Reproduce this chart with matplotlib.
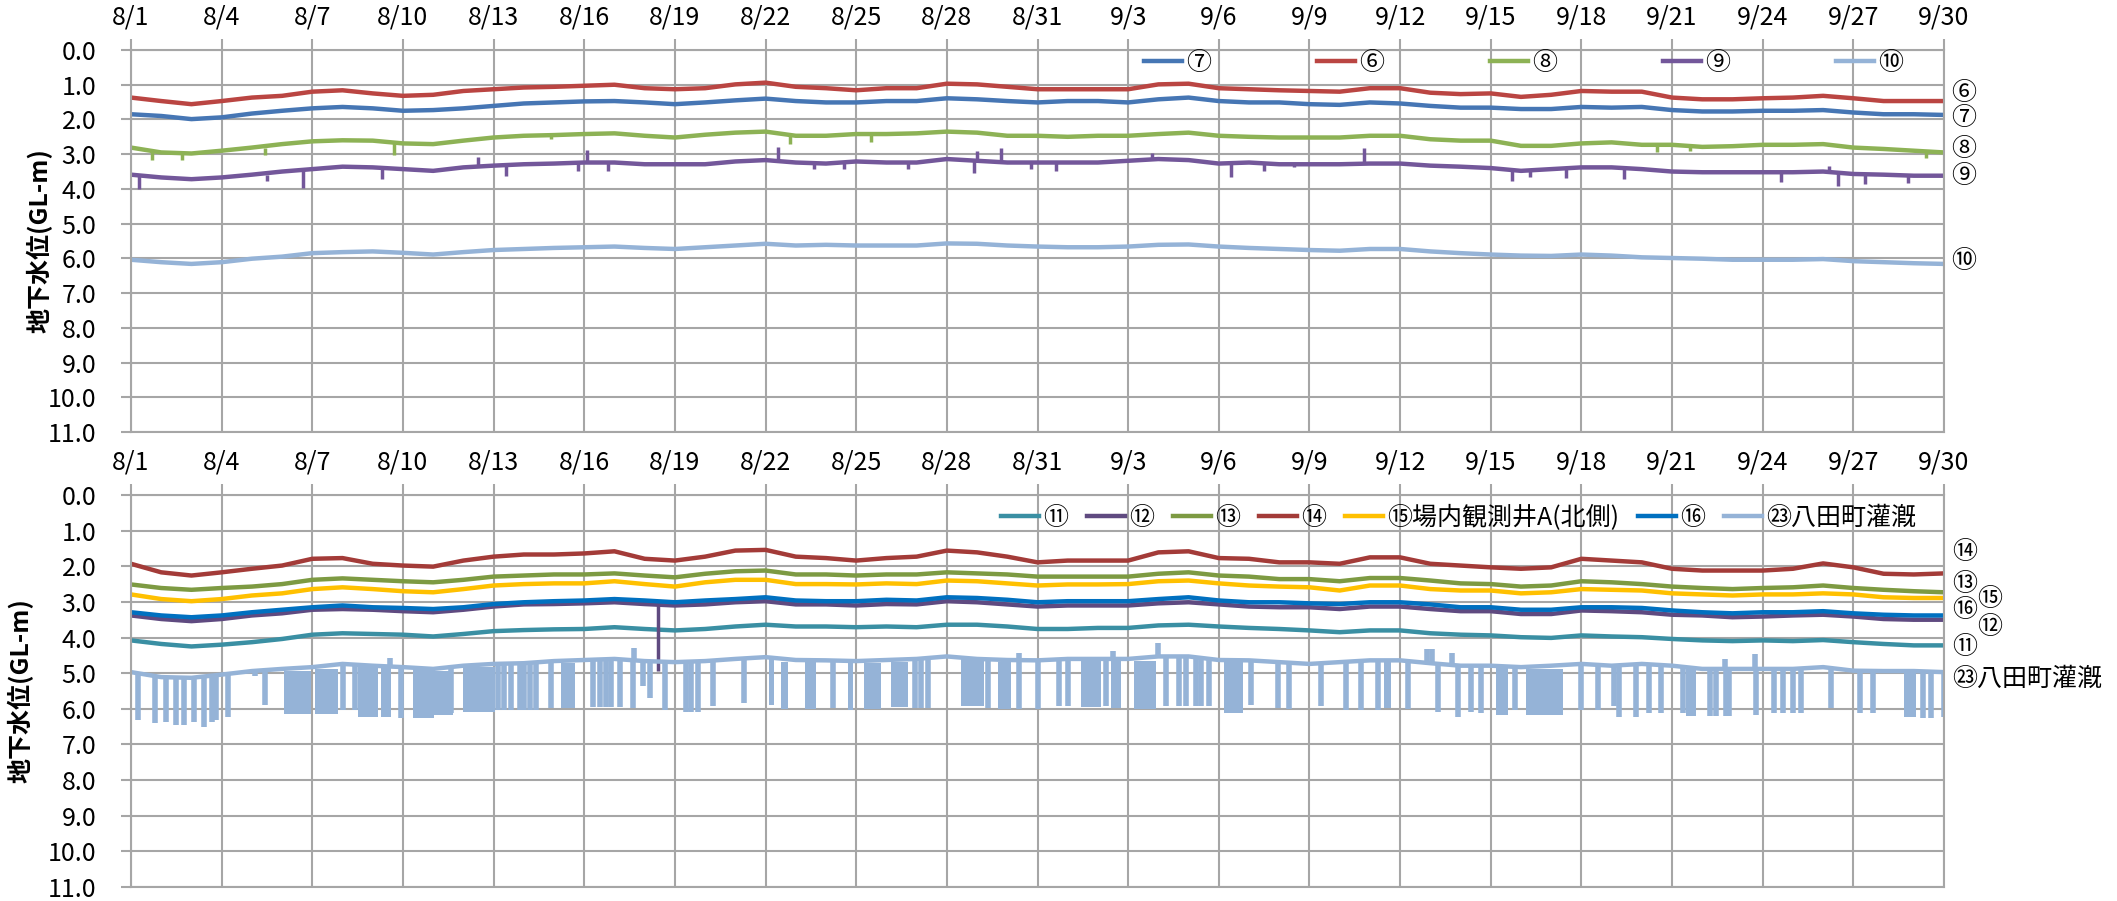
import matplotlib
matplotlib.use('Agg')
import matplotlib.pyplot as plt
import numpy as np

plt.rcParams['font.family'] = ['Noto Sans CJK JP', 'DejaVu Sans']

# ---- data (depth below ground, m), one reading per day 8/1 .. 9/30 ----
days = np.arange(61)
tick_pos = np.arange(0, 61, 3)
tick_labels = ['8/1', '8/4', '8/7', '8/10', '8/13', '8/16', '8/19', '8/22', '8/25', '8/28',
               '8/31', '9/3', '9/6', '9/9', '9/12', '9/15', '9/18', '9/21', '9/24', '9/27', '9/30']
ytick_labels = ['%.1f' % v for v in range(12)]

# upper panel
w7 = [1.85, 1.90, 1.99, 1.94, 1.83, 1.75, 1.68, 1.64, 1.68, 1.75, 1.73, 1.68, 1.61, 1.54, 1.51, 1.48, 1.47, 1.51, 1.56,
      1.51, 1.45, 1.40, 1.47, 1.51, 1.51, 1.47, 1.47, 1.39, 1.42, 1.47, 1.51, 1.47, 1.47, 1.51, 1.42, 1.37, 1.47, 1.51, 1.51, 1.56, 1.58, 1.51, 1.54,
      1.61, 1.66, 1.66, 1.70, 1.70, 1.64, 1.66, 1.64, 1.73, 1.77, 1.77, 1.75, 1.75, 1.73, 1.80, 1.85, 1.85, 1.87]
w6 = [1.37, 1.47, 1.56, 1.47, 1.37, 1.32, 1.20, 1.16, 1.25, 1.32, 1.29, 1.18, 1.13, 1.08, 1.06, 1.03, 1.00, 1.10, 1.13,
      1.10, 0.99, 0.94, 1.06, 1.10, 1.16, 1.10, 1.10, 0.97, 0.99, 1.06, 1.13, 1.13, 1.13, 1.13, 0.99, 0.97, 1.10, 1.13, 1.16, 1.18, 1.20, 1.10, 1.10,
      1.23, 1.27, 1.25, 1.35, 1.29, 1.18, 1.20, 1.20, 1.37, 1.42, 1.42, 1.39, 1.37, 1.32, 1.39, 1.47, 1.47, 1.47]
w8 = [2.81, 2.95, 2.98, 2.90, 2.81, 2.71, 2.63, 2.60, 2.61, 2.69, 2.71, 2.61, 2.52, 2.47, 2.45, 2.42, 2.40, 2.47, 2.52,
      2.44, 2.38, 2.35, 2.47, 2.47, 2.42, 2.42, 2.40, 2.35, 2.38, 2.47, 2.47, 2.50, 2.47, 2.47, 2.42, 2.38, 2.47, 2.50, 2.52, 2.52, 2.52, 2.47, 2.47,
      2.57, 2.61, 2.61, 2.76, 2.76, 2.69, 2.66, 2.73, 2.73, 2.79, 2.77, 2.73, 2.73, 2.71, 2.81, 2.85, 2.90, 2.95]
w9 = [3.59, 3.67, 3.72, 3.67, 3.59, 3.50, 3.43, 3.36, 3.38, 3.43, 3.48, 3.38, 3.33, 3.29, 3.27, 3.24, 3.24, 3.29, 3.29,
      3.29, 3.21, 3.17, 3.24, 3.27, 3.21, 3.24, 3.24, 3.14, 3.19, 3.24, 3.24, 3.24, 3.24, 3.19, 3.14, 3.17, 3.27, 3.24, 3.29, 3.29, 3.29, 3.27, 3.27,
      3.33, 3.36, 3.40, 3.48, 3.43, 3.38, 3.38, 3.43, 3.50, 3.52, 3.52, 3.52, 3.52, 3.50, 3.57, 3.59, 3.62, 3.62]
w10 = [6.04, 6.11, 6.16, 6.11, 6.01, 5.95, 5.85, 5.82, 5.80, 5.84, 5.89, 5.82, 5.76, 5.73, 5.70, 5.68, 5.66, 5.70, 5.73,
       5.68, 5.63, 5.58, 5.63, 5.61, 5.63, 5.63, 5.63, 5.57, 5.58, 5.63, 5.66, 5.68, 5.68, 5.66, 5.61, 5.60, 5.66, 5.70, 5.73, 5.76, 5.78, 5.73, 5.73,
       5.80, 5.85, 5.89, 5.92, 5.93, 5.89, 5.92, 5.97, 5.99, 6.01, 6.04, 6.04, 6.04, 6.02, 6.08, 6.11, 6.14, 6.16]
# short spikes on ⑧ and ⑨ (day, level)
w8_spike_day = [0.7, 1.7, 4.45, 8.7, 13.9, 21.8, 24.5, 50.5, 51.6, 59.4]
w8_spike_val = [3.17, 3.17, 3.02, 3.02, 2.57, 2.71, 2.66, 2.95, 2.92, 3.11]
w9_spike_day = [0.27, 4.5, 5.7, 8.3, 11.5, 12.4, 14.8, 15.1, 15.8, 21.4, 22.6, 23.6, 25.7, 27.9, 28.0, 28.8, 29.8, 30.6,
                33.8, 36.4, 37.5, 38.5, 40.8, 45.7, 46.3, 47.5, 49.4, 54.6, 56.2, 56.5, 57.4, 58.8]
w9_spike_val = [4.00, 3.76, 3.96, 3.72, 3.09, 3.62, 3.48, 2.88, 3.48, 2.79, 3.43, 3.43, 3.43, 3.55, 2.92, 2.83, 3.43, 3.48,
                2.98, 3.65, 3.48, 3.38, 2.83, 3.76, 3.67, 3.69, 3.72, 3.81, 3.33, 3.91, 3.86, 3.84]

# lower panel
w11 = [4.08, 4.18, 4.25, 4.20, 4.13, 4.04, 3.92, 3.88, 3.90, 3.92, 3.97, 3.90, 3.82, 3.79, 3.77, 3.76, 3.71, 3.76, 3.80,
       3.76, 3.69, 3.64, 3.69, 3.69, 3.71, 3.69, 3.71, 3.64, 3.64, 3.69, 3.76, 3.76, 3.73, 3.73, 3.66, 3.64, 3.69, 3.73, 3.76, 3.80, 3.85, 3.80, 3.80,
       3.88, 3.92, 3.94, 3.99, 4.01, 3.94, 3.97, 3.99, 4.04, 4.08, 4.10, 4.08, 4.10, 4.07, 4.13, 4.18, 4.22, 4.22]
w12 = [3.38, 3.48, 3.54, 3.48, 3.38, 3.32, 3.22, 3.20, 3.22, 3.26, 3.29, 3.22, 3.13, 3.07, 3.06, 3.04, 3.01, 3.06, 3.10,
       3.07, 3.01, 2.98, 3.07, 3.07, 3.10, 3.06, 3.07, 2.98, 3.01, 3.07, 3.13, 3.10, 3.10, 3.10, 3.04, 3.01, 3.07, 3.13, 3.15, 3.15, 3.20, 3.13, 3.13,
       3.20, 3.26, 3.26, 3.34, 3.34, 3.24, 3.26, 3.29, 3.36, 3.38, 3.43, 3.41, 3.38, 3.36, 3.41, 3.48, 3.50, 3.50]
w13 = [2.51, 2.61, 2.66, 2.61, 2.57, 2.50, 2.38, 2.34, 2.38, 2.42, 2.45, 2.38, 2.29, 2.26, 2.23, 2.23, 2.20, 2.26, 2.31,
       2.21, 2.14, 2.12, 2.23, 2.23, 2.26, 2.23, 2.23, 2.17, 2.20, 2.23, 2.29, 2.29, 2.29, 2.29, 2.21, 2.17, 2.26, 2.29, 2.36, 2.36, 2.42, 2.33, 2.33,
       2.40, 2.48, 2.50, 2.57, 2.54, 2.42, 2.45, 2.50, 2.57, 2.61, 2.64, 2.61, 2.59, 2.54, 2.61, 2.66, 2.70, 2.73]
w14 = [1.93, 2.17, 2.26, 2.17, 2.07, 1.98, 1.79, 1.77, 1.93, 1.98, 2.01, 1.84, 1.73, 1.67, 1.67, 1.64, 1.58, 1.79, 1.84,
       1.73, 1.56, 1.54, 1.73, 1.77, 1.84, 1.77, 1.73, 1.56, 1.61, 1.73, 1.89, 1.84, 1.84, 1.84, 1.61, 1.58, 1.77, 1.79, 1.89, 1.89, 1.93, 1.75, 1.75,
       1.93, 1.98, 2.03, 2.07, 2.03, 1.79, 1.84, 1.89, 2.07, 2.12, 2.12, 2.12, 2.07, 1.92, 2.03, 2.21, 2.23, 2.20]
w15 = [2.79, 2.92, 2.98, 2.92, 2.82, 2.76, 2.64, 2.59, 2.64, 2.70, 2.73, 2.64, 2.54, 2.50, 2.48, 2.48, 2.42, 2.50, 2.57,
       2.45, 2.38, 2.38, 2.50, 2.50, 2.51, 2.48, 2.50, 2.40, 2.42, 2.48, 2.54, 2.51, 2.51, 2.50, 2.42, 2.40, 2.48, 2.54, 2.57, 2.59, 2.68, 2.54, 2.54,
       2.64, 2.68, 2.68, 2.76, 2.73, 2.64, 2.66, 2.68, 2.76, 2.79, 2.82, 2.79, 2.79, 2.76, 2.79, 2.87, 2.89, 2.89]
w16 = [3.29, 3.38, 3.43, 3.38, 3.29, 3.22, 3.15, 3.10, 3.15, 3.17, 3.20, 3.15, 3.06, 3.01, 2.98, 2.96, 2.92, 2.96, 3.01,
       2.96, 2.92, 2.87, 2.96, 2.98, 2.98, 2.94, 2.96, 2.87, 2.89, 2.94, 3.01, 2.98, 2.98, 2.98, 2.92, 2.87, 2.96, 3.01, 3.01, 3.04, 3.06, 3.01, 3.01,
       3.07, 3.15, 3.15, 3.22, 3.22, 3.15, 3.15, 3.17, 3.24, 3.29, 3.32, 3.29, 3.29, 3.26, 3.32, 3.36, 3.38, 3.38]
w23 = [4.97, 5.11, 5.13, 5.04, 4.94, 4.88, 4.83, 4.74, 4.79, 4.83, 4.88, 4.79, 4.74, 4.72, 4.66, 4.63, 4.60, 4.66, 4.69,
       4.66, 4.60, 4.55, 4.63, 4.64, 4.66, 4.63, 4.60, 4.53, 4.60, 4.63, 4.64, 4.60, 4.60, 4.60, 4.53, 4.53, 4.63, 4.64, 4.69, 4.74, 4.69, 4.64, 4.64,
       4.72, 4.79, 4.79, 4.83, 4.79, 4.74, 4.79, 4.74, 4.79, 4.88, 4.88, 4.88, 4.88, 4.83, 4.93, 4.94, 4.94, 4.97]
w12_spike_day = [17.44]
w12_spike_val = [4.94]
# pumping drawdowns on ㉓: single spikes and dense blocks
irr_spike_day = [0.23, 0.78, 1.16, 1.49, 1.77, 2.10, 2.43, 2.67, 2.82, 3.20, 4.09, 4.42, 7.00, 7.40, 8.94,
                 10.60, 12.14, 12.36, 12.58, 12.86, 13.02, 13.19, 13.41, 13.91, 15.28, 15.51, 15.73, 15.89, 16.17, 16.61,
                 16.94, 17.16, 17.66, 18.37, 18.54, 18.76, 19.26,
                 20.30, 23.22, 25.93, 26.15, 26.37, 28.35, 29.40, 30.00,
                 30.72, 31.00, 32.27, 34.25, 34.69, 34.91, 35.24, 35.41, 35.69, 37.06, 37.95, 38.33, 39.38, 40.21,
                 40.71, 41.26, 42.26, 43.25, 43.91, 44.35, 44.68, 45.79, 47.99, 48.54, 49.09, 49.26, 49.81, 50.25,
                 50.64, 51.35, 52.24, 52.46, 52.79, 52.90, 53.78, 54.39, 54.66, 54.99, 55.27, 56.26, 57.22, 57.66, 59.29, 59.57, 60.00,
                 8.56, 16.66, 29.40, 32.51, 33.98, 42.90, 43.05, 43.71, 52.76, 53.76]
irr_spike_val = [6.31, 6.41, 6.36, 6.45, 6.45, 6.36, 6.50, 6.36, 6.31, 6.22, 5.08, 5.89, 6.03, 6.03, 6.26,
                 6.12, 6.03, 6.03, 6.03, 6.03, 6.03, 6.03, 6.03, 5.98, 5.95, 5.95, 5.95, 5.95, 5.95, 5.98,
                 5.37, 5.70, 6.03, 6.08, 6.08, 6.08, 5.93,
                 5.84, 5.98, 5.98, 5.98, 5.98, 5.98, 6.01, 6.01,
                 5.92, 5.92, 5.93, 5.93, 5.93, 5.93, 5.93, 5.93, 5.93, 5.89, 5.98, 6.01, 5.93, 6.03,
                 6.03, 6.03, 6.01, 6.08, 6.24, 6.08, 6.12, 6.03, 6.03, 6.03, 5.93, 6.22, 6.22, 6.12,
                 6.12, 6.12, 6.20, 6.20, 6.20, 6.20, 6.17, 6.12, 6.12, 6.12, 6.12, 5.98, 6.12, 6.12, 6.26, 6.26, 6.24,
                 4.57, 4.28, 4.42, 4.38, 4.14, 4.33, 4.33, 4.42, 4.61, 4.47]
irr_block_start = [5.06, 6.09, 7.50, 8.28, 9.33, 10.04, 10.98, 14.24, 21.13, 21.51, 22.29, 23.72, 24.27, 25.15, 27.47, 28.68,
                   31.44, 32.43, 33.20, 36.18, 41.48, 45.18, 46.17, 51.46, 58.69]
irr_block_end = [5.96, 6.84, 8.17, 8.61, 10.04, 10.65, 12.03, 14.68, 21.29, 21.73, 22.67, 23.89, 24.82, 25.71, 28.24, 29.12,
                 32.10, 32.76, 33.92, 36.79, 41.70, 45.56, 47.38, 51.79, 59.07]
irr_block_val = [6.14, 6.14, 6.24, 6.24, 6.26, 6.17, 6.08, 5.98, 5.89, 6.01, 6.01, 6.03, 6.01, 5.96, 5.92, 6.01,
                 5.95, 5.98, 6.01, 6.12, 5.98, 6.17, 6.17, 6.20, 6.24]

top_names = ['⑦', '⑥', '⑧', '⑨', '⑩']
top_series = [w7, w6, w8, w9, w10]
top_colors = ['#4676B4', '#BA4542', '#8DB255', '#73579A', '#95B3D7']
top_tags = ['⑥', '⑦', '⑧', '⑨', '⑩']
top_tag_y = [1.24, 1.96, 2.85, 3.64, 6.08]

bot_names = ['⑪', '⑫', '⑬', '⑭', '⑮場内観測井A(北側)', '⑯', '㉓八田町灌漑']
bot_series = [w11, w12, w13, w14, w15, w16, w23]
bot_colors = ['#3A8FA3', '#5F4A80', '#7D9A42', '#A33B38', '#FFC000', '#0070C0', '#95B3D7']
bot_tags = ['⑭', '⑬', '⑮', '⑯', '⑫', '⑪', '㉓八田町灌漑']
bot_tag_y = [1.61, 2.50, 2.92, 3.24, 3.71, 4.27, 5.16]
bot_tag_dx = [6, 6, 24, 6, 24, 6, 6]

GRID = '#a6a6a6'
FS = 18
TAG_FS = 18
LW = 3.2


def style_axes(ax, label_x):
    ax.set_xlim(0, 60)
    ax.set_ylim(11, 0)
    ax.xaxis.tick_top()
    ax.set_xticks(tick_pos)
    ax.set_xticklabels(tick_labels, fontsize=FS)
    ax.set_yticks(range(12))
    ax.set_yticklabels(ytick_labels, fontsize=FS)
    ax.tick_params(axis='x', direction='out', length=8, width=1.5, color=GRID, pad=6)
    ax.tick_params(axis='y', direction='out', length=7, width=1.5, color=GRID, pad=18)
    ax.grid(True, color=GRID, lw=1.5)
    ax.set_axisbelow(True)
    for s in ax.spines.values():
        s.set_color(GRID)
        s.set_linewidth(1.5)
    ax.set_ylabel('地下水位(GL-m)', fontsize=FS, fontweight='bold')
    ax.yaxis.set_label_coords(label_x, 0.5)


fig = plt.figure(figsize=(21.17, 9.01), dpi=100)
W, H = 2117.0, 901.0
ax1 = fig.add_axes([131 / W, 1 - 432 / H, 1813 / W, 382 / H])
ax2 = fig.add_axes([131 / W, 1 - 887 / H, 1813 / W, 392 / H])

# upper panel
for name, vals, col in zip(top_names, top_series, top_colors):
    ax1.plot(days, vals, color=col, lw=LW, label=name)
    if name == '⑧':
        ax1.vlines(w8_spike_day, [vals[int(round(d))] for d in w8_spike_day], w8_spike_val, color=col, lw=2.5)
    if name == '⑨':
        ax1.vlines(w9_spike_day, [vals[int(round(d))] for d in w9_spike_day], w9_spike_val, color=col, lw=2.5)
style_axes(ax1, -0.043)
ax1.legend(loc='center left', bbox_to_anchor=(1144 / W, 1 - 63 / H), bbox_transform=fig.transFigure,
           ncol=5, frameon=False, fontsize=FS, handlelength=1.52, handletextpad=0.15,
           columnspacing=4.25, borderpad=0, borderaxespad=0)
for t, y in zip(top_tags, top_tag_y):
    ax1.annotate(t, xy=(60, y), xytext=(5, 0), textcoords='offset points',
                 ha='left', va='center', fontsize=TAG_FS, annotation_clip=False)

# lower panel
for name, vals, col in zip(bot_names, bot_series, bot_colors):
    ax2.plot(days, vals, color=col, lw=LW, label=name)
    if name == '⑫':
        ax2.vlines(w12_spike_day, [vals[int(round(d))] for d in w12_spike_day], w12_spike_val, color=col, lw=2.5)
    if name.startswith('㉓'):
        ax2.vlines(irr_spike_day, [vals[int(round(d))] for d in irr_spike_day], irr_spike_val, color=col, lw=4)
        for s, e, v in zip(irr_block_start, irr_block_end, irr_block_val):
            top = vals[int(round(s))] + 0.05
            ax2.fill_between([s, e], top, v, color=col, lw=0)
style_axes(ax2, -0.054)
ax2.legend(loc='center left', bbox_to_anchor=(1001 / W, 1 - 518 / H), bbox_transform=fig.transFigure,
           ncol=7, frameon=False, fontsize=FS, handlelength=1.52, handletextpad=0.15,
           columnspacing=0.77, borderpad=0, borderaxespad=0)
for t, y, dx in zip(bot_tags, bot_tag_y, bot_tag_dx):
    ax2.annotate(t, xy=(60, y), xytext=(dx, 0), textcoords='offset points',
                 ha='left', va='center', fontsize=TAG_FS, annotation_clip=False)

fig.savefig('out.png', dpi=100)
